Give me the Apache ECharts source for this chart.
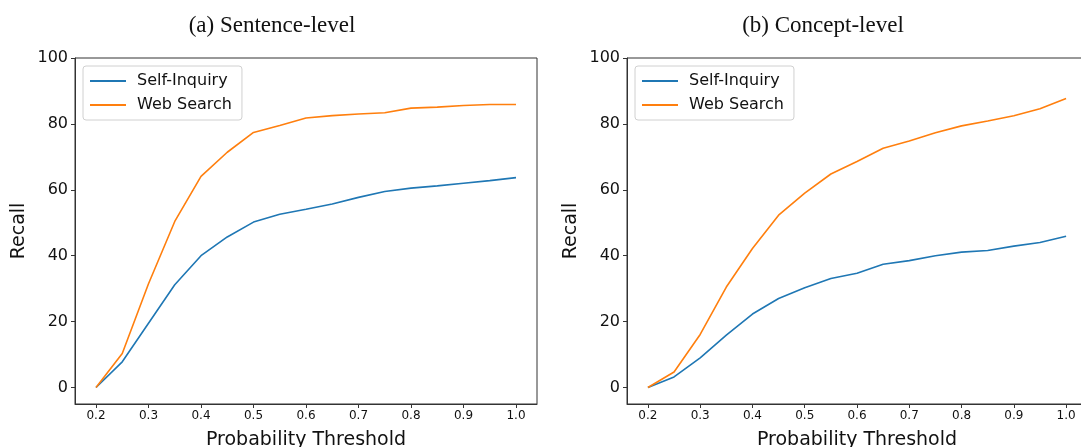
<!DOCTYPE html>
<html>
<head>
<meta charset="utf-8">
<script src="https://cdn.jsdelivr.net/npm/echarts@6/dist/echarts.min.js"></script>
<style>
html,body{margin:0;padding:0;background:#fff;}
#chart{width:1081px;height:447px;}
</style>
</head>
<body>
<div id="chart"></div>
<script>
const thresholds = [0.2,0.25,0.3,0.35,0.4,0.45,0.5,0.55,0.6,0.65,0.7,0.75,0.8,0.85,0.9,0.95,1.0];
const sentSelfInquiry = [0,7.8,19.5,31.2,40,45.7,50.2,52.6,54.1,55.7,57.7,59.5,60.5,61.2,62.0,62.8,63.7];
const sentWebSearch   = [0,10.3,31.5,50.4,64.1,71.4,77.4,79.5,81.8,82.5,83.0,83.4,84.8,85.1,85.6,85.9,85.9];
const conSelfInquiry  = [0,3.2,9.0,15.9,22.3,27.0,30.3,33.1,34.7,37.4,38.5,40.0,41.1,41.6,42.9,44.0,45.9];
const conWebSearch    = [0,4.7,16.1,30.5,42.2,52.3,59.0,64.8,68.6,72.6,74.8,77.3,79.4,80.9,82.5,84.6,87.7];
const xTicks = [0.2,0.3,0.4,0.5,0.6,0.7,0.8,0.9,1.0];
const yTicks = [0,20,40,60,80,100];
const panelTitles = ['(a) Sentence-level','(b) Concept-level'];
const seriesNames = ['Self-Inquiry','Web Search'];
const colors = ['#1f77b4','#ff7f0e'];

const pairs = (xs, ys) => xs.map((x,i)=>[x, ys[i]]);
const spine = '#333';
const grids = [
  {left:75, top:58, width:462, height:346},
  {left:627, top:58, width:460, height:346}
];
const titleCenters = [272, 823];
function xAxis(i){
  return {
    type:'value', gridIndex:i, min:0.16, max:1.04,
    name:'Probability Threshold', nameLocation:'middle', nameGap:27,
    nameTextStyle:{fontFamily:'DejaVu Sans', fontSize:19, color:'#111'},
    axisLine:{show:true, onZero:false, lineStyle:{color:spine, width:1}},
    axisTick:{show:true, length:4, lineStyle:{color:spine}, customValues:xTicks},
    axisLabel:{fontFamily:'DejaVu Sans', fontSize:12, color:'#111', margin:6,
      customValues:xTicks, formatter:v=>Number(v).toFixed(1)},
    splitLine:{show:false}
  };
}
function yAxis(i){
  return {
    type:'value', gridIndex:i, min:-5, max:100,
    name:'Recall', nameLocation:'middle', nameGap:46, nameRotate:90,
    nameTextStyle:{fontFamily:'DejaVu Sans', fontSize:19, color:'#111'},
    axisLine:{show:true, onZero:false, lineStyle:{color:spine, width:1}},
    axisTick:{show:true, length:4, lineStyle:{color:spine}, customValues:yTicks},
    axisLabel:{fontFamily:'DejaVu Sans', fontSize:16, color:'#111', margin:7, customValues:yTicks},
    splitLine:{show:false}
  };
}
const data = [[sentSelfInquiry, sentWebSearch],[conSelfInquiry, conWebSearch]];
const series = [];
data.forEach((pair, gi)=>{
  pair.forEach((vals, si)=>{
    series.push({
      type:'line', name:seriesNames[si], xAxisIndex:gi, yAxisIndex:gi,
      data:pairs(thresholds, vals), symbol:'none', smooth:false,
      lineStyle:{color:colors[si], width:1.6}, itemStyle:{color:colors[si]},
      animation:false
    });
  });
});
const option = {
  backgroundColor:'#fff',
  animation:false,
  title: panelTitles.map((t,i)=>({
    text:t, left: titleCenters[i] - 5, top:9, textAlign:'center',
    textStyle:{fontFamily:'Liberation Serif', fontSize:23, fontWeight:'normal', color:'#111'}
  })),
  grid: grids.map(g=>Object.assign({show:true, borderColor:spine, borderWidth:1, backgroundColor:'transparent',
    containLabel:false, outerBoundsMode:'none'}, g)),
  xAxis:[xAxis(0), xAxis(1)],
  yAxis:[yAxis(0), yAxis(1)],
  legend: grids.map(g=>({
    data:seriesNames, orient:'vertical', left:g.left+8, top:66,
    itemWidth:36, itemHeight:2, itemGap:8,
    padding:[7,10,7,6],
    backgroundColor:'#fff', borderColor:'#d0d0d0', borderWidth:1, borderRadius:3,
    textStyle:{fontFamily:'DejaVu Sans', fontSize:16, color:'#111', padding:[0,0,0,6]},
    selectedMode:false
  })),
  series: series
};
const chart = echarts.init(document.getElementById('chart'), null, {renderer:'canvas'});
chart.setOption(option);
</script>
</body>
</html>
